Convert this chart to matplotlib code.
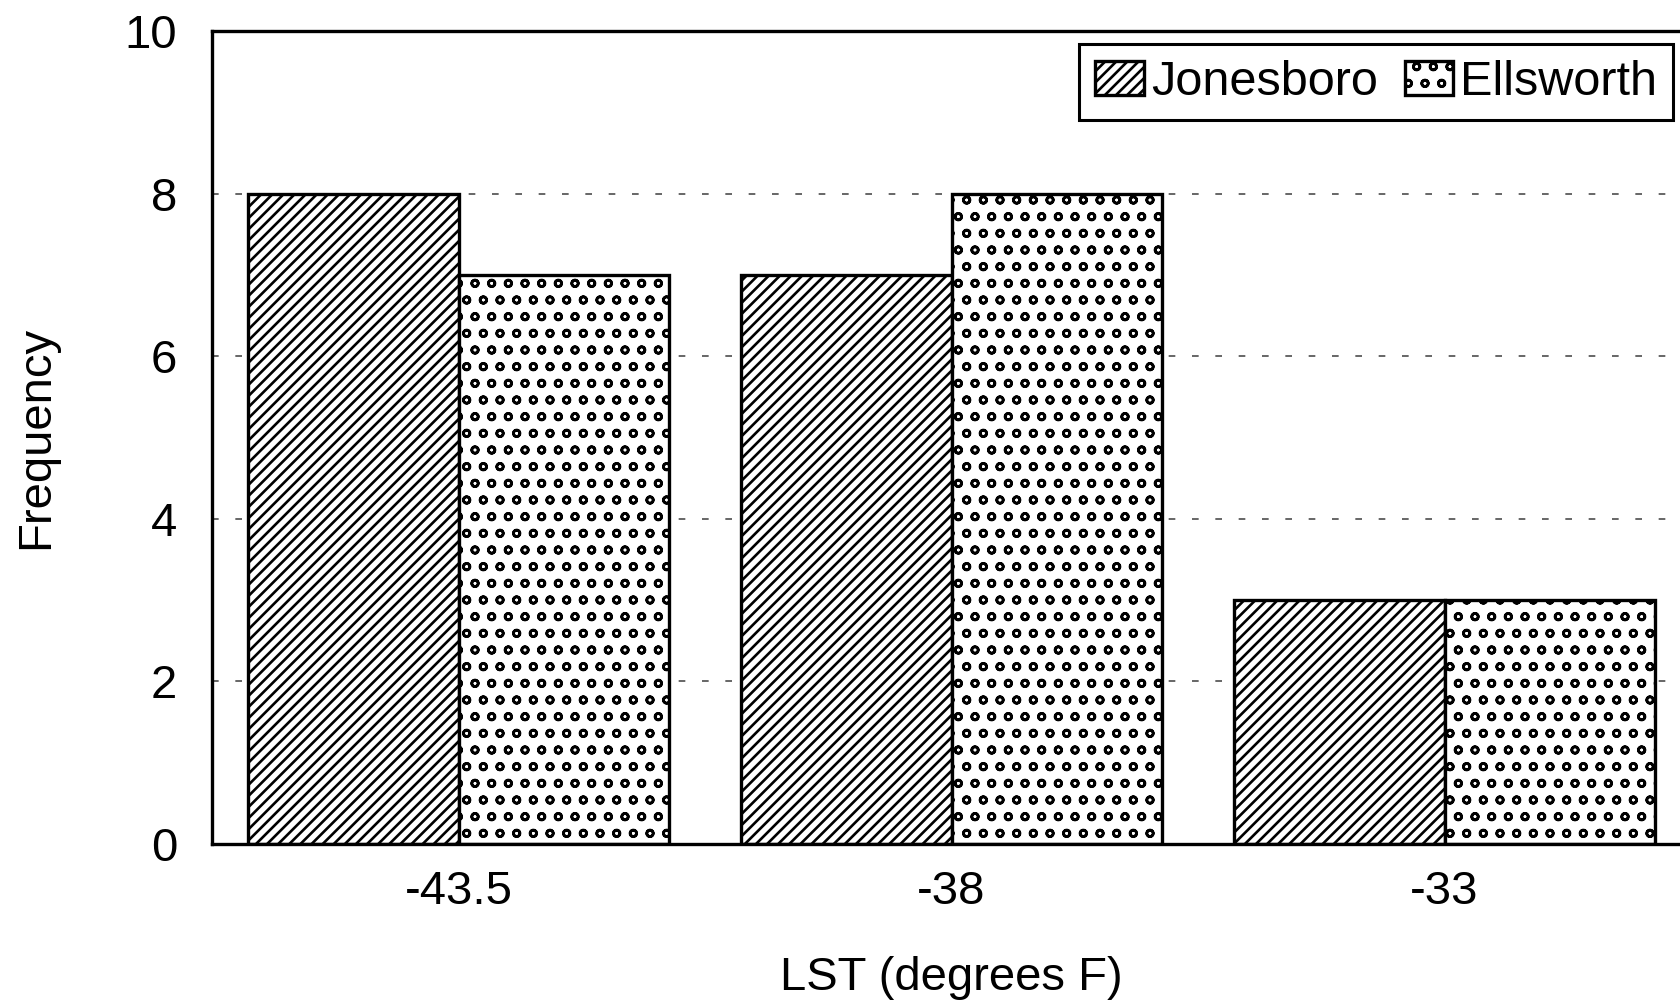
import matplotlib as mpl
mpl.use('Agg')
import matplotlib.pyplot as plt
import numpy as np

# bin labels and counts per site
bins = ['-43.5', '-38', '-33']
jonesboro = [8, 7, 3]
ellsworth = [7, 8, 3]

plt.rcParams['font.family'] = ['Liberation Sans', 'DejaVu Sans']
plt.rcParams['hatch.linewidth'] = 1.9
plt.rcParams['hatch.color'] = 'black'

fig = plt.figure(figsize=(16.8, 10.05), dpi=100)
# axes runs a bit past the right edge of the page
axis = fig.add_axes([212 / 1680, 1 - 844 / 1005, 1479 / 1680, 813 / 1005])

x = np.arange(len(bins))
width = 0.427

axis.bar(x - width / 2, jonesboro, width, color='white', edgecolor='black',
         linewidth=2.4, hatch='///', label='Jonesboro', zorder=2)
axis.bar(x + width / 2, ellsworth, width, color='white', edgecolor='black',
         linewidth=2.4, hatch='o', label='Ellsworth', zorder=2)

axis.set_xlim(-0.5, 2.5)
axis.set_ylim(0, 10)
axis.set_yticks([0, 2, 4, 6, 8, 10])
axis.set_xticks(x)
axis.set_xticklabels(bins)

axis.yaxis.grid(True, color='0.3', linewidth=1.2, linestyle=(0, (4, 10)), zorder=0)
axis.set_axisbelow(True)

axis.tick_params(axis='both', length=0, labelsize=34)
axis.tick_params(axis='y', pad=25)
axis.tick_params(axis='x', pad=19)

for side in ['left', 'top', 'bottom', 'right']:
    axis.spines[side].set_linewidth(2.4)
    axis.spines[side].set_color('black')

axis.set_xlabel('LST (degrees F)', fontsize=34, labelpad=30)
axis.set_ylabel('Frequency', fontsize=34, labelpad=48)

leg = axis.legend(loc='upper right', bbox_to_anchor=(1673 / 1680, 1 - 44 / 1005),
                  bbox_transform=fig.transFigure, ncol=2, fontsize=35,
                  frameon=True, fancybox=False, framealpha=1, edgecolor='black',
                  borderaxespad=0, borderpad=0.32, handlelength=1.0,
                  handleheight=0.7, handletextpad=0.15, columnspacing=0.55)
leg.get_frame().set_linewidth(2.2)

fig.savefig('out.png', dpi=100)
